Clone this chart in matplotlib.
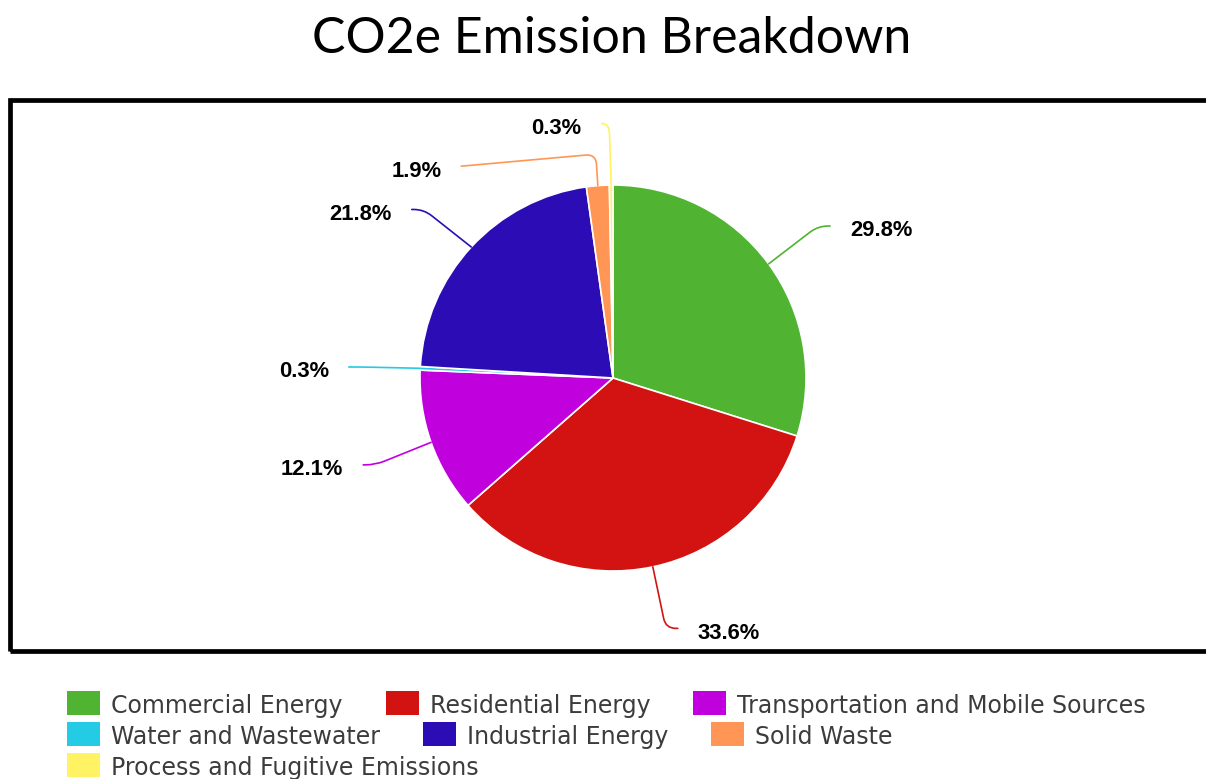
import matplotlib.pyplot as plt
import numpy as np
from matplotlib.path import Path
from matplotlib.patches import PathPatch, Rectangle

# data
categories = ["Commercial Energy", "Residential Energy", "Transportation and Mobile Sources",
              "Water and Wastewater", "Industrial Energy", "Solid Waste",
              "Process and Fugitive Emissions"]
shares = [29.8, 33.6, 12.1, 0.3, 21.8, 1.9, 0.3]
colors = ["#50b432", "#d21312", "#c000dd", "#24cbe5", "#2c0cb4", "#ff9655", "#fff263"]
title = "CO2e Emission Breakdown"

# label layout: angle nudge (deg) from slice middle and distance in radii
label_nudge = [-1.25, 2.6, -0.3, 0.5, 2.8, 31.1, 2.0]
label_dist = [1.373, 1.34, 1.37, 1.37, 1.36, 1.35, 1.32]
vertical_crook = {5: 12, 6: 0}

W, H = 1206, 779
CX, CY, R = 613, H - 378, 193

fig = plt.figure(figsize=(W / 100, H / 100), dpi=100)
ax = fig.add_axes([0, 0, 1, 1])

wedges, _ = ax.pie(shares, colors=colors, startangle=90, counterclock=False,
                   center=(CX, CY), radius=R, frame=True,
                   wedgeprops=dict(edgecolor="white", linewidth=1.2))
ax.set_xlim(0, W)
ax.set_ylim(0, H)
ax.set_aspect("auto")
ax.axis("off")

# chart frame (right edge runs off the picture)
ax.add_patch(Rectangle((10, H - 651), W + 20, 651 - 99.5, fill=False,
                       edgecolor="black", linewidth=3.4, clip_on=False))

ax.text(612, H - 38.5, title, ha="center", va="center", fontsize=36,
        family="Lato", color="black")


def connector(p0, k, e, rc=10):
    d1 = k - e
    l1 = np.hypot(*d1)
    a = k - d1 / l1 * min(rc, l1)
    d2 = p0 - k
    l2 = np.hypot(*d2)
    b = k + d2 / l2 * min(rc, l2 * 0.5)
    verts = [e, a, k, b, p0]
    codes = [Path.MOVETO, Path.LINETO, Path.CURVE3, Path.CURVE3, Path.LINETO]
    return Path(verts, codes)


for i, w in enumerate(wedges):
    mid = np.deg2rad((w.theta1 + w.theta2) / 2)
    p0 = np.array([CX + R * np.cos(mid), CY + R * np.sin(mid)])
    ang = mid + np.deg2rad(label_nudge[i])
    e = np.array([CX + label_dist[i] * R * np.cos(ang),
                  CY + label_dist[i] * R * np.sin(ang)])
    if i in vertical_crook:
        s = -1
        k = np.array([p0[0] - 2, e[1] + vertical_crook[i]])
    else:
        s = 1 if np.cos(ang) >= 0 else -1
        k = e - np.array([s * 12, 0])
    ax.add_patch(PathPatch(connector(p0, k, e), facecolor="none",
                           edgecolor=colors[i], linewidth=1.2, capstyle="round"))
    ax.text(e[0] + s * 20, e[1] - 5, f"{shares[i]:.1f}%",
            ha="left" if s > 0 else "right", va="center",
            fontsize=15.8, fontweight="bold", family="Liberation Sans", color="black")

# legend as a wrapping row of swatches
fig.canvas.draw()
renderer = fig.canvas.get_renderer()
x, row = 67, 0
for i, name in enumerate(categories):
    t = ax.text(0, 0, name, fontsize=17, family="DejaVu Sans", color="#3c3c3c",
                ha="left", va="baseline")
    tw = t.get_window_extent(renderer).width
    if x + 44 + tw > W - 10:
        x, row = 67, row + 1
    yc = H - (703 + row * 31)
    ax.add_patch(Rectangle((x, yc - 12), 33, 24, facecolor=colors[i],
                           edgecolor="none", clip_on=False))
    t.set_position((x + 44, yc - 10))
    x += 44 + tw + 43

fig.savefig("out.png", dpi=100)
